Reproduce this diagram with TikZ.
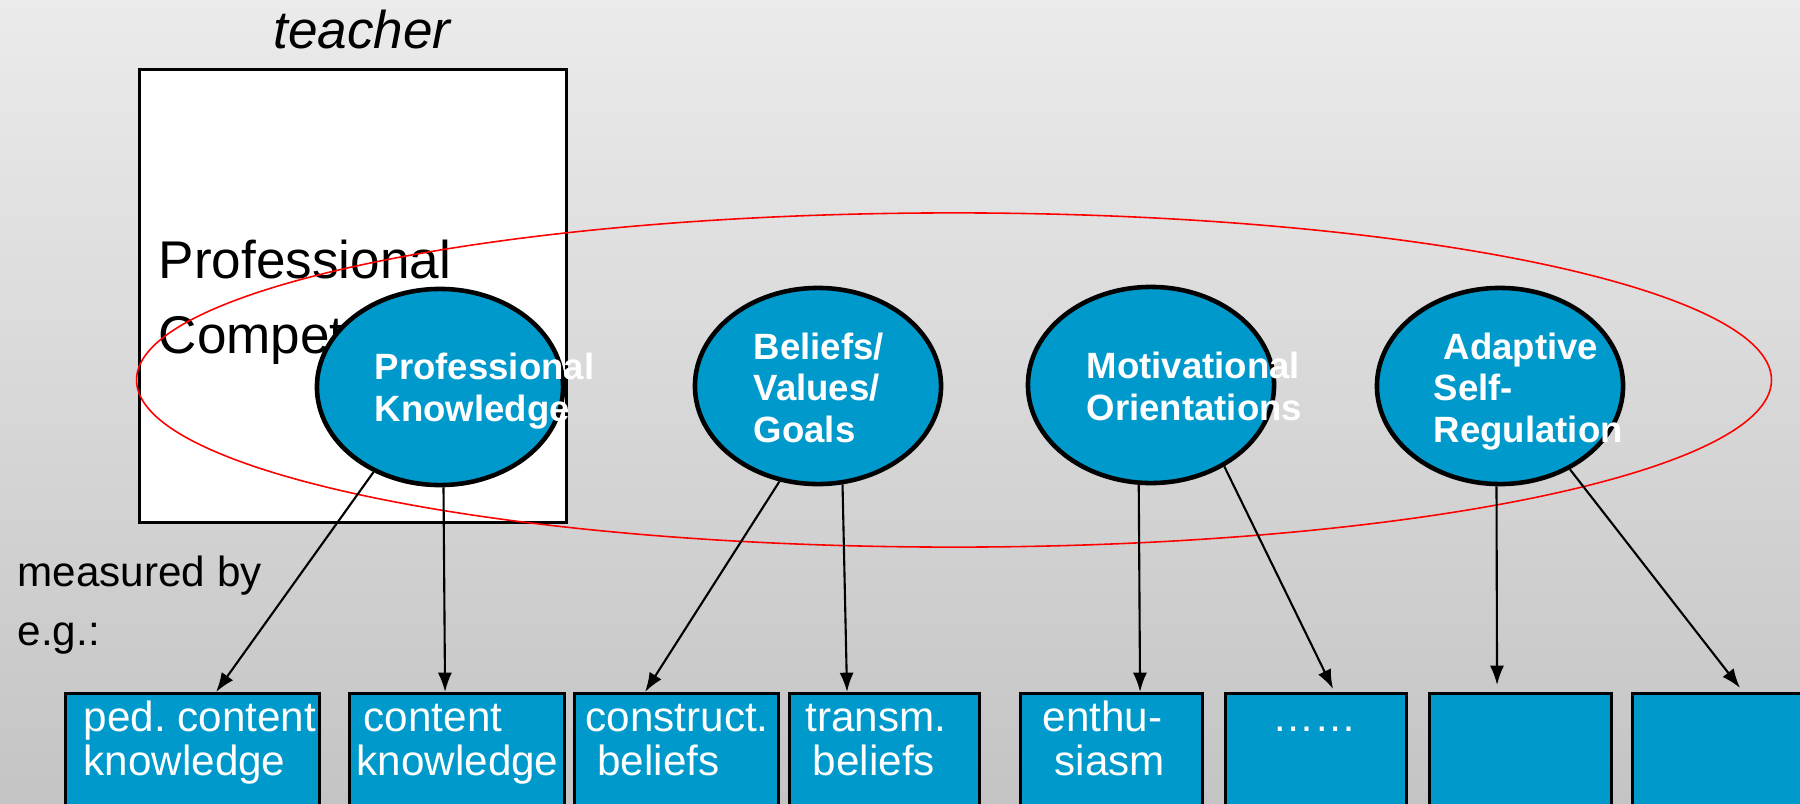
\documentclass[tikz,border=0pt]{standalone}
\usepackage{fontspec}
\setmainfont{Liberation Sans}
\usetikzlibrary{shapes.geometric}
\usetikzlibrary{arrows.meta}
\definecolor{bgtop}{RGB}{235,235,235}
\definecolor{bgbot}{RGB}{196,196,196}
\definecolor{cblue}{RGB}{0,153,204}
\frenchspacing

\begin{document}
\begin{tikzpicture}[x=0.01cm,y=-0.01cm,
  facet/.style={ellipse,draw=black,line width=1.3pt,fill=cblue,minimum width=2.46cm,minimum height=1.96cm,inner sep=0pt},
  facettext/.style={text=white,font=\fontsize{10.4}{11.8}\selectfont\bfseries,align=left,anchor=base west,inner sep=0pt},
  measure/.style={draw=black,line width=0.9pt,fill=cblue,anchor=north west,minimum height=1.5cm,inner sep=0pt},
  measuretext/.style={text=white,font=\fontsize{12}{12.5}\selectfont,align=left,anchor=base west,inner sep=0pt},
  big/.style={font=\fontsize{15.1}{21.3}\selectfont,align=left,anchor=base west,inner sep=0pt},
  arr/.style={line width=0.6pt,-{Latex[length=5.5pt,width=4pt]}}]

% background
\useasboundingbox (0,0) rectangle (1800,803);
\clip (0,0) rectangle (1800,803);
\shade[top color=bgtop,bottom color=bgbot] (0,0) rectangle (1800,803);

% teacher box (text nodes sit on their last baseline)
\node[font=\fontsize{15.1}{18}\selectfont\itshape,anchor=base,inner sep=0pt] (teacher) at (362,48) {teacher};
\node[draw=black,line width=0.8pt,fill=white,anchor=north west,minimum width=4.27cm,minimum height=4.53cm] (tbox) at (138,68) {};
\node[big] (pc) at (158,353) {Professional\\Competence};

% red frame
\draw[red,line width=0.45pt] (954,380) ellipse [x radius=8.17cm,y radius=1.67cm];

% facets
\node[facet] (pk) at (440,387) {};
\node[facet] (bvg) at (818,386) {};
\node[facet] (mo) at (1151,385) {};
\node[facet] (asr) at (1500,386) {};
\node[facettext] at (374,421) {Professional\\Knowledge};
\node[facettext] at (753,442) {Beliefs/\\Values/\\Goals};
\node[facettext] at (1086,420) {Motivational\\Orientations};
\node[facettext] at (1433,442) {\hspace*{.27em}Adaptive\\Self-\\Regulation};

% measured by
\node[font=\fontsize{12}{16.5}\selectfont,align=left,anchor=base west,inner sep=0pt] (mb) at (17,645) {measured by\\e.g.:};

% measures
\node[measure,minimum width=2.54cm] (pck) at (64,692) {};
\node[measure,minimum width=2.15cm] (ck) at (348,692) {};
\node[measure,minimum width=2.04cm] (cob) at (573,692) {};
\node[measure,minimum width=1.90cm] (trb) at (788,692) {};
\node[measure,minimum width=1.82cm] (ent) at (1019,692) {};
\node[measure,minimum width=1.81cm] (etc) at (1224,692) {};
\node[measure,minimum width=1.82cm] (sr1) at (1428,692) {};
\node[measure,minimum width=1.90cm] (sr2) at (1631,692) {};
\node[measuretext] at (83,775) {ped. content\\knowledge};
\node[measuretext] at (356,775) {\hspace*{.17em}content\\knowledge};
\node[measuretext] at (585,775) {construct.\\\hspace*{.28em}beliefs};
\node[measuretext] at (805,775) {transm.\\\hspace*{.17em}beliefs};
\node[measuretext] at (1042,775) {enthu-\\\hspace*{.28em}siasm};
\node[measuretext] at (1272,731) {……};

% arrows
\draw[arr] (pk.232) -- ([xshift=1.52cm]pck.north west);
\draw[arr] (pk.272) -- ([xshift=0.97cm]ck.north west);
\draw[arr] (bvg.248) -- ([xshift=0.72cm]cob.north west);
\draw[arr] (bvg.284) -- ([xshift=0.59cm]trb.north west);
\draw[arr] (mo.263) -- ([xshift=1.21cm]ent.north west);
\draw[arr] (mo.312) -- ([xshift=1.09cm,yshift=0.03cm]etc.north west);
\draw[arr] (asr.268) -- ([xshift=0.69cm,yshift=0.07cm]sr1.north west);
\draw[arr] (asr.310) -- ([xshift=1.09cm,yshift=0.04cm]sr2.north west);

\end{tikzpicture}
\end{document}
